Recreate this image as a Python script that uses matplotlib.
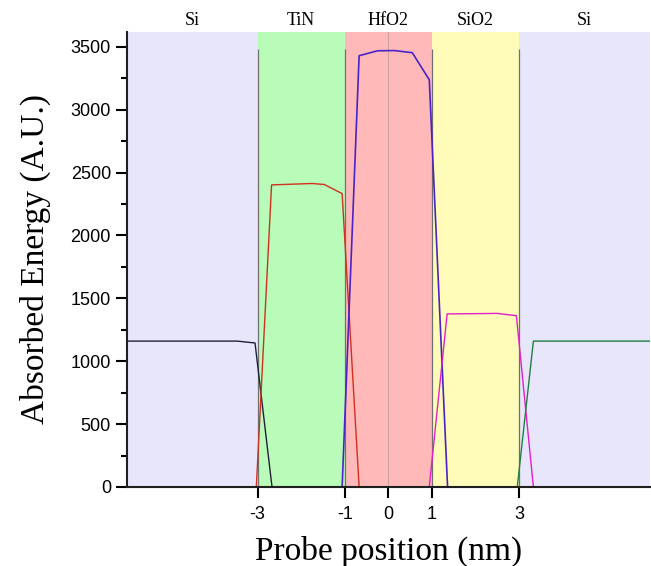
import numpy as np
import matplotlib.pyplot as plt

# capas: nombre, limites (nm) y color de fondo
capas = ['Si', 'TiN', 'HfO2', 'SiO2', 'Si']
bordes = [-6, -3, -1, 1, 3, 6]
fondos = ['#E8E6FA', '#B9FBB9', '#FFB9B9', '#FFFCBA', '#E8E6FA']

# energia absorbida en cada capa
x_si1 = [-6, -3.47, -3.06, -2.67, 6]
e_si1 = [1160, 1160, 1145, 0, 0]
x_tin = [-6, -3.03, -2.68, -1.75, -1.47, -1.06, -0.67, 6]
e_tin = [0, 0, 2402, 2413, 2405, 2333, 0, 0]
x_hfo = [-6, -1.06, -0.67, -0.25, 0.14, 0.55, 0.94, 1.36, 6]
e_hfo = [0, 0, 3429, 3468, 3470, 3453, 3238, 0, 0]
x_sio = [-6, 0.94, 1.35, 2.5, 2.94, 3.33, 6]
e_sio = [0, 0, 1376, 1380, 1362, 0, 0]
x_si2 = [-6, 2.96, 3.33, 6]
e_si2 = [0, 0, 1160, 1160]

xticks = [-3, -1, 0, 1, 3]

fig = plt.figure(figsize=(6.51, 5.66), dpi=100)
ax = fig.add_axes([0.195, 0.1396, 0.803, 0.8044])

for i in range(len(capas)):
    ax.axvspan(bordes[i], bordes[i+1], color=fondos[i], lw=0, zorder=0)
    ax.text((bordes[i] + bordes[i+1]) / 2, 3640, capas[i], ha='center', va='bottom',
            fontsize=13, family='Liberation Serif')
ax.vlines(bordes[1:-1], 0, 3480, color='#707070', lw=0.9, zorder=1)
ax.vlines(0, 0, 3620, color='#C8A0A0', lw=0.7, zorder=1)

ax.plot(x_si1, e_si1, color='#202038', lw=1)
ax.plot(x_tin, e_tin, color='#D03020', lw=1)
ax.plot(x_hfo, e_hfo, color='#4A22C8', lw=1.2)
ax.plot(x_sio, e_sio, color='#E020C8', lw=1)
ax.plot(x_si2, e_si2, color='#208040', lw=1)

ax.set_xlim(-6, 6)
ax.set_ylim(0, 3620)
ax.set_xticks(xticks)
ax.set_xticklabels([str(t) for t in xticks])
ax.set_yticks(np.arange(0, 3501, 500))
ax.set_yticks(np.arange(250, 3501, 500), minor=True)
for s in ['top', 'right']:
    ax.spines[s].set_visible(False)
for s in ['left', 'bottom']:
    ax.spines[s].set_linewidth(1.5)
    ax.spines[s].set_color('#202020')
ax.tick_params(which='major', direction='out', length=8, width=1.5, labelsize=13)
ax.tick_params(axis='x', pad=6)
ax.tick_params(which='minor', direction='out', length=4, width=1.5)
for lab in ax.get_xticklabels() + ax.get_yticklabels():
    lab.set_family('Liberation Sans')

ax.set_xlabel('Probe position (nm)', fontsize=24, family='Liberation Serif', labelpad=9)
ax.set_ylabel('Absorbed Energy (A.U.)', fontsize=24, family='Liberation Serif', labelpad=14)

plt.savefig('out.png', dpi=100)
